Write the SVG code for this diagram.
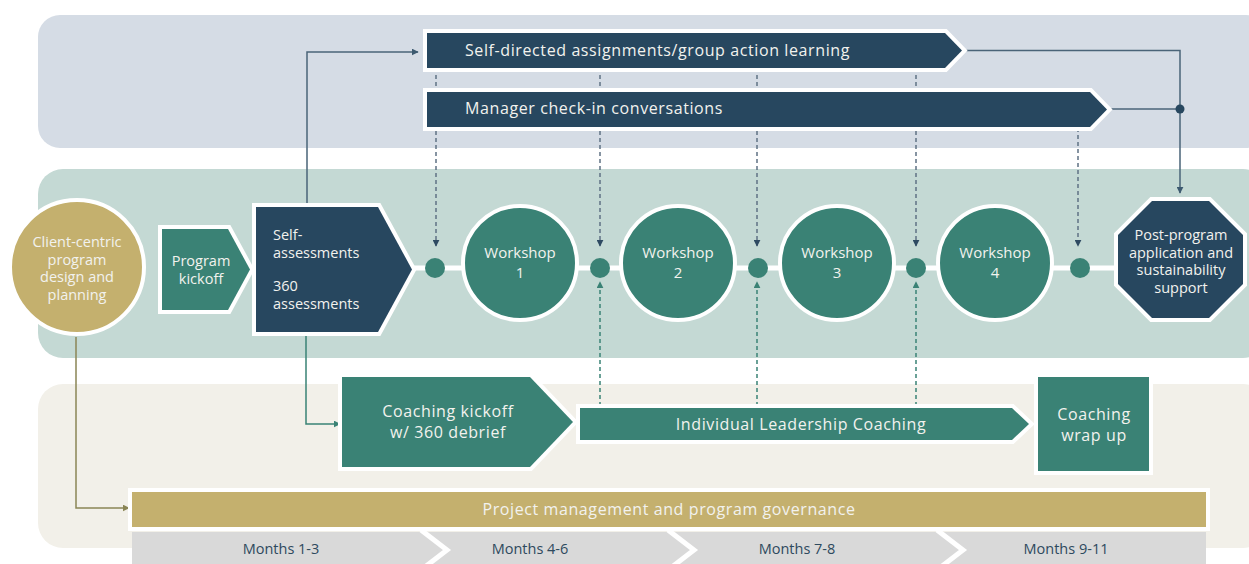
<svg xmlns="http://www.w3.org/2000/svg" width="1249" height="564" viewBox="0 0 1249 564">
<style>
.t{font-family:"Open Sans","Liberation Sans",sans-serif;font-size:15px;fill:#F2F2EE}
.s{font-size:14.5px}
.w{font-size:16px;letter-spacing:0.6px}
.c{text-anchor:middle}
.m{font-family:"Open Sans","Liberation Sans",sans-serif;font-size:14.5px;fill:#2E4A5E;text-anchor:middle}
.navy{fill:#27475F;stroke:#fff;stroke-width:8;paint-order:stroke;stroke-linejoin:miter}
.teal{fill:#3A8275;stroke:#fff;stroke-width:8;paint-order:stroke;stroke-linejoin:miter}
.dn{stroke:#5F7284;stroke-width:1.5;stroke-dasharray:4 3;fill:none}
.dt{stroke:#3A8275;stroke-width:1.5;stroke-dasharray:4 3;fill:none}
.dot{fill:#3A8275}
</style>
<defs>
<marker id="an" viewBox="0 0 10 10" refX="9" refY="5" markerWidth="7" markerHeight="7" orient="auto" markerUnits="userSpaceOnUse"><path d="M0,0 L10,5 L0,10 z" fill="#3D5A70"/></marker>
<marker id="ag" viewBox="0 0 10 10" refX="9" refY="5" markerWidth="7" markerHeight="7" orient="auto" markerUnits="userSpaceOnUse"><path d="M0,0 L10,5 L0,10 z" fill="#8A8556"/></marker>
<marker id="at" viewBox="0 0 10 10" refX="9" refY="5" markerWidth="7" markerHeight="7" orient="auto" markerUnits="userSpaceOnUse"><path d="M0,0 L10,5 L0,10 z" fill="#3A8275"/></marker>
<marker id="dn" viewBox="0 0 10 10" refX="9" refY="5" markerWidth="7" markerHeight="7" orient="auto" markerUnits="userSpaceOnUse"><path d="M0,0 L10,5 L0,10 z" fill="#2E4A62"/></marker>
<marker id="dt" viewBox="0 0 10 10" refX="9" refY="5" markerWidth="7" markerHeight="7" orient="auto" markerUnits="userSpaceOnUse"><path d="M0,0 L10,5 L0,10 z" fill="#3A8275"/></marker>
</defs>
<rect width="1249" height="564" fill="#fff"/>
<!-- bands -->
<rect x="38" y="15" width="1230" height="133" rx="22" fill="#D5DCE5"/>
<rect x="38" y="169" width="1230" height="189" rx="25" fill="#C4D9D4"/>
<rect x="38" y="384" width="1230" height="164" rx="25" fill="#F2F0E9"/>

<g id="connectors">
<path class="dn" d="M436,68 V246" marker-end="url(#dn)"/>
<path class="dn" d="M600,68 V246" marker-end="url(#dn)"/>
<path class="dn" d="M757,68 V246" marker-end="url(#dn)"/>
<path class="dn" d="M916,68 V246" marker-end="url(#dn)"/>
<path class="dn" d="M1078,128 V246" marker-end="url(#dn)"/>
<path class="dt" d="M600,406 V282" marker-end="url(#dt)"/>
<path class="dt" d="M757,406 V282" marker-end="url(#dt)"/>
<path class="dt" d="M916,406 V282" marker-end="url(#dt)"/>
<path d="M307,207 V52 H418" fill="none" stroke="#4A6478" stroke-width="1.5" marker-end="url(#an)"/>
<path d="M966,50.5 H1180 V193" fill="none" stroke="#4A6478" stroke-width="1.5" marker-end="url(#an)"/>
<path d="M1110,109 H1180" fill="none" stroke="#4A6478" stroke-width="1.5"/>
<circle cx="1180" cy="109" r="4.5" fill="#27475F"/>
<path d="M76,337 V508 H129" fill="none" stroke="#8A8556" stroke-width="1.5" marker-end="url(#ag)"/>
<path d="M306,336 V424 H340" fill="none" stroke="#3A8275" stroke-width="1.5" marker-end="url(#at)"/>
<line x1="412" y1="268" x2="1120" y2="268" stroke="#fff" stroke-width="5"/>
<circle class="dot" cx="435" cy="268" r="10"/>
<circle class="dot" cx="600" cy="268" r="10"/>
<circle class="dot" cx="758" cy="268" r="10"/>
<circle class="dot" cx="916" cy="268" r="10"/>
<circle class="dot" cx="1080" cy="268" r="10"/>
</g>

<g id="self-directed">
<polygon class="navy" points="427,33 945,33 962,50.5 945,68 427,68"/>
<text class="t w" x="465" y="56">Self-directed assignments/group action learning</text>
</g>
<g id="manager">
<polygon class="navy" points="427,92 1090,92 1107,109.5 1090,127 427,127"/>
<text class="t w" x="465" y="114">Manager check-in conversations</text>
</g>

<g id="client">
<circle cx="77" cy="267" r="67" fill="#C4B06E" stroke="#fff" stroke-width="4"/>
<text class="t s c" x="77" y="247" fill="#F5EFD8">Client-centric</text>
<text class="t s c" x="77" y="264.5">program</text>
<text class="t s c" x="77" y="282">design and</text>
<text class="t s c" x="77" y="299.5">planning</text>
</g>
<g id="kickoff">
<polygon class="teal" points="162,229 228,229 250,269.5 228,310 162,310"/>
<text class="t s c" x="201" y="266">Program</text>
<text class="t s c" x="201" y="283.5">kickoff</text>
</g>
<g id="self-assess">
<polygon class="navy" points="256,207 378,207 412,269.5 378,332 256,332"/>
<text class="t s" x="273" y="240">Self-</text>
<text class="t s" x="273" y="258">assessments</text>
<text class="t s" x="273" y="291">360</text>
<text class="t s" x="273" y="308.5">assessments</text>
</g>
<g id="w1"><circle cx="520" cy="263" r="57" fill="#3A8275" stroke="#fff" stroke-width="4"/><text class="t c" x="520" y="258">Workshop</text><text class="t c" x="520" y="278">1</text></g>
<g id="w2"><circle cx="678" cy="263" r="57" fill="#3A8275" stroke="#fff" stroke-width="4"/><text class="t c" x="678" y="258">Workshop</text><text class="t c" x="678" y="278">2</text></g>
<g id="w3"><circle cx="837" cy="263" r="57" fill="#3A8275" stroke="#fff" stroke-width="4"/><text class="t c" x="837" y="258">Workshop</text><text class="t c" x="837" y="278">3</text></g>
<g id="w4"><circle cx="995" cy="263" r="57" fill="#3A8275" stroke="#fff" stroke-width="4"/><text class="t c" x="995" y="258">Workshop</text><text class="t c" x="995" y="278">4</text></g>
<g id="post">
<polygon class="navy" points="1152,201 1209,201 1243,235 1243,284 1209,318 1152,318 1118,284 1118,235"/>
<text class="t s c" x="1181" y="240">Post-program</text>
<text class="t s c" x="1181" y="257.5">application and</text>
<text class="t s c" x="1181" y="275">sustainability</text>
<text class="t s c" x="1181" y="292.5">support</text>
</g>
<g id="coach-kickoff">
<polygon class="teal" points="342,377 530,377 573,422 530,467 342,467"/>
<text class="t w c" x="448" y="417">Coaching kickoff</text>
<text class="t w c" x="448" y="438">w/ 360 debrief</text>
</g>
<g id="individual">
<polygon class="teal" points="580,408 1012,408 1029,424 1012,440 580,440"/>
<text class="t w c" x="801" y="429.5">Individual Leadership Coaching</text>
</g>
<g id="wrap">
<rect class="teal" x="1038" y="377" width="111" height="94"/>
<text class="t w c" x="1094" y="420">Coaching</text>
<text class="t w c" x="1094" y="441">wrap up</text>
</g>
<g id="pm">
<rect x="132" y="492" width="1074" height="35" fill="#C4B06E" stroke="#fff" stroke-width="8" paint-order="stroke"/>
<text class="t w c" x="669" y="514.5">Project management and program governance</text>
</g>
<g id="months">
<rect x="132" y="532" width="1074" height="40" fill="#D9D9D9"/>
<polyline points="421,530 447,550 421,570" fill="none" stroke="#fff" stroke-width="5"/>
<polyline points="668,530 694,550 668,570" fill="none" stroke="#fff" stroke-width="5"/>
<polyline points="937,530 963,550 937,570" fill="none" stroke="#fff" stroke-width="5"/>
<text class="m" x="281" y="554">Months 1-3</text>
<text class="m" x="530" y="554">Months 4-6</text>
<text class="m" x="797" y="554">Months 7-8</text>
<text class="m" x="1066" y="554">Months 9-11</text>
</g>
</svg>
